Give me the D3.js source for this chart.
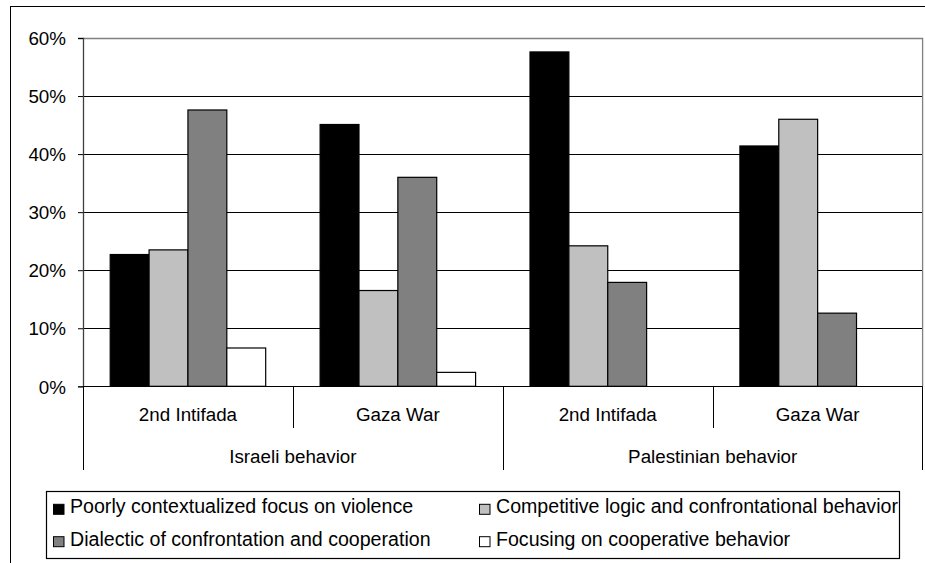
<!DOCTYPE html>
<html><head><meta charset="utf-8">
<script src="https://cdn.jsdelivr.net/npm/d3@7"></script>
<style>body{margin:0;background:#fff}text{font-family:"Liberation Sans",Arial,sans-serif;fill:#000}</style>
</head><body><svg id="c" width="925" height="563"></svg>
<script>
const groups = ["Israeli behavior", "Palestinian behavior"];
const periods = ["2nd Intifada", "Gaza War"];
const categories = ["Israeli|2nd Intifada", "Israeli|Gaza War", "Palestinian|2nd Intifada", "Palestinian|Gaza War"];
const seriesNames = ["Poorly contextualized focus on violence", "Competitive logic and confrontational behavior", "Dialectic of confrontation and cooperation", "Focusing on cooperative behavior"];
const poorlyContextualized = [22.7, 45.1, 57.6, 41.4];
const competitiveLogic = [23.5, 16.5, 24.2, 46.0];
const dialectic = [47.6, 36.0, 17.9, 12.6];
const cooperative = [6.6, 2.4, 0, 0];
const yTicks = [0, 10, 20, 30, 40, 50, 60];
const colors = ["#000000", "#c0c0c0", "#808080", "#ffffff"];
const seriesValues = [poorlyContextualized, competitiveLogic, dialectic, cooperative];

const svg = d3.select("#c");
const L = 83, R = 922.6, T = 38, B = 386.3;
const FS = 18.8, LFS = 19.6;

// outer frame
svg.append("rect").attr("x",10.5).attr("y",6.5).attr("width",925).attr("height",600)
  .attr("fill","none").attr("stroke","#000").attr("stroke-width",1);

const x = d3.scaleBand().domain(categories).range([L, R]).paddingInner(0).paddingOuter(0);
const xi = d3.scaleBand().domain(d3.range(4)).range([0, x.bandwidth()]).paddingInner(0).paddingOuter(0.7);
const y = d3.scaleLinear().domain([0, 60]).range([B, T]);

// gridlines
svg.append("g").selectAll("line").data(yTicks.filter(t=>t>0 && t<60)).join("line")
  .attr("x1",L).attr("x2",R).attr("y1",d=>Math.round(y(d))+0.5).attr("y2",d=>Math.round(y(d))+0.5)
  .attr("stroke","#000").attr("stroke-width",1);
// plot border top/right gray
svg.append("path").attr("d",`M${L},${Math.round(T)+0.5}H${R}V${B}`).attr("fill","none").attr("stroke","#808080").attr("stroke-width",1.3);

// bars
const bars = svg.append("g");
categories.forEach((c,ci)=>{
  seriesValues.forEach((vals,si)=>{
    const v = vals[ci];
    if (v <= 0) return;
    bars.append("rect")
      .attr("x", x(c)+xi(si)).attr("width", xi.bandwidth())
      .attr("y", y(v)).attr("height", y(0)-y(v))
      .attr("fill", colors[si]).attr("stroke","#000").attr("stroke-width",1.2);
  });
});

// y axis
const yAxis = d3.axisLeft(y).tickValues(yTicks).tickFormat(d=>d+"%").tickSize(5).tickPadding(12);
const ya = svg.append("g").attr("transform",`translate(${L},0)`).call(yAxis);
ya.select(".domain").attr("stroke","#404040").attr("stroke-width",1.3);
ya.selectAll(".tick line").attr("stroke","#000");
ya.selectAll("text").attr("font-size",FS).attr("font-family","Liberation Sans, Arial, sans-serif").attr("fill","#000").attr("dy",null).attr("y",6.7);

// x axis baseline
svg.append("line").attr("x1",L).attr("x2",R).attr("y1",Math.round(B)+0.5).attr("y2",Math.round(B)+0.5).attr("stroke","#000");

// sub separators
const sep = svg.append("g").attr("stroke","#000").attr("stroke-width",1);
[1,3].forEach(i=>{
  const xx = Math.round(x(categories[i]))+0.5;
  sep.append("line").attr("x1",xx).attr("x2",xx).attr("y1",B).attr("y2",428);
});
[0,2].forEach(i=>{
  const xx = Math.round(x(categories[i]))+0.5;
  sep.append("line").attr("x1",xx).attr("x2",xx).attr("y1",B).attr("y2",470);
});
sep.append("line").attr("x1",Math.round(R)-0.5).attr("x2",Math.round(R)-0.5).attr("y1",B).attr("y2",470);

// category labels
svg.append("g").selectAll("text").data(categories).join("text")
  .attr("x",d=>x(d)+x.bandwidth()/2).attr("y",420.7)
  .attr("text-anchor","middle").attr("font-size",FS).text(d=>d.split("|")[1]);
svg.append("g").selectAll("text").data(groups).join("text")
  .attr("x",(d,i)=>x(categories[i*2])+x.bandwidth()).attr("y",462.7)
  .attr("text-anchor","middle").attr("font-size",FS).text(d=>d);

// legend
const lg = svg.append("g");
lg.append("rect").attr("x",46.5).attr("y",491.5).attr("width",853).attr("height",67)
  .attr("fill","#fff").attr("stroke","#000").attr("stroke-width",1.2);
const legPos = [[53,509.3],[479,509.3],[53,541.7],[479,541.7]];
seriesNames.forEach((n,i)=>{
  const [lx,ly] = legPos[i];
  lg.append("rect").attr("x",lx+0.5).attr("y",ly-5).attr("width",10.5).attr("height",10)
    .attr("fill",colors[i]).attr("stroke","#000").attr("stroke-width",1);
  lg.append("text").attr("x",lx+17).attr("y",ly+4).attr("font-size",LFS).text(n);
});
</script></body></html>
